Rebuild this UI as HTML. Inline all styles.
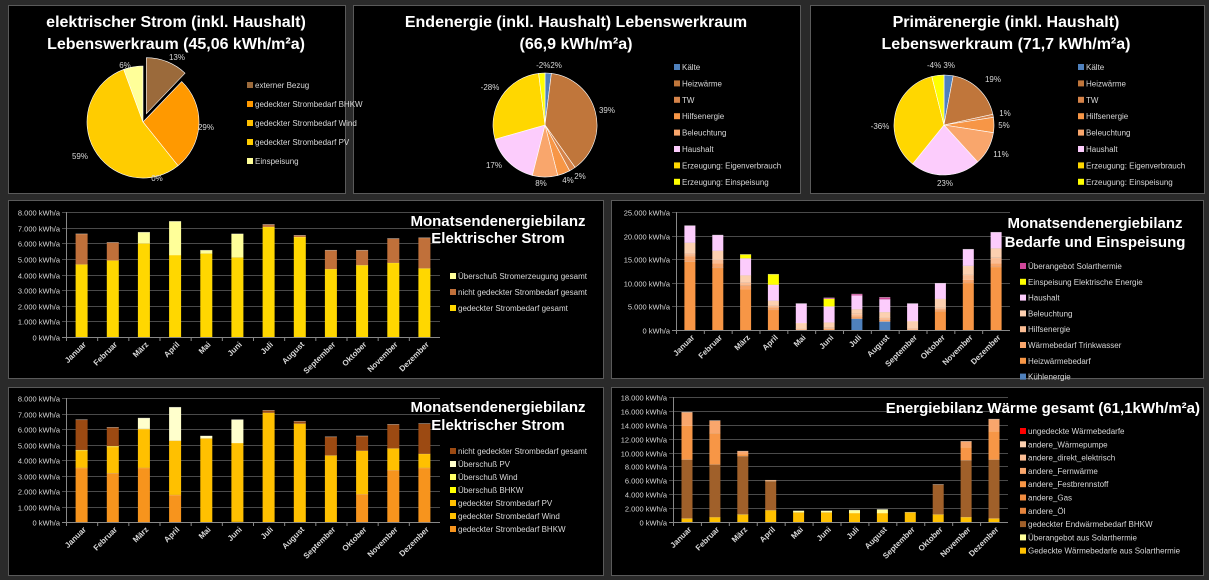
<!DOCTYPE html>
<html><head><meta charset="utf-8">
<style>
html,body{margin:0;padding:0;background:#2a2a2a;}
body{width:1209px;height:580px;overflow:hidden;position:relative;font-family:"Liberation Sans",sans-serif;}
svg{position:absolute;left:0;top:0;}
</style></head>
<body>
<svg id="s" width="1209" height="580" xmlns="http://www.w3.org/2000/svg"></svg>
<script>
var s=document.getElementById('s'),out='';
function rect(x,y,w,h,f,st){out+='<rect x="'+x+'" y="'+y+'" width="'+w+'" height="'+h+'" fill="'+f+'"'+(st?' stroke="'+st+'" stroke-width="1"':'')+'/>';}
function text(x,y,t,o){o=o||{};out+='<text x="'+x+'" y="'+y+'" font-size="'+(o.fs||8)+'" fill="'+(o.c||'#d8d8d8')+'" text-anchor="'+(o.a||'start')+'"'+(o.b?' font-weight="bold"':'')+(o.tr?' transform="'+o.tr+'"':'')+'>'+t+'</text>';}
function fmt(n){var s=String(n);return s.replace(/\B(?=(\d{3})+(?!\d))/g,'.');}
[[8,5,337,188],[353,5,447,188],[810,5,394,188],[8,200,595,178],[611,200,592,178],[8,387,595,188],[611,387,592,188]].forEach(function(p){rect(p[0]+.5,p[1]+.5,p[2],p[3],'#000','#5a5a5a');});
function title(cx,y,t,fs){text(cx,y,t,{fs:fs||15,b:1,c:'#fff',a:'middle'});}
title(176,27,'elektrischer Strom (inkl. Haushalt)',16);title(176,49,'Lebenswerkraum (45,06 kWh/m²a)',16);
title(576,27,'Endenergie (inkl. Haushalt) Lebenswerkraum',16);title(576,49,'(66,9 kWh/m²a)',16);
title(1006,27,'Primärenergie (inkl. Haushalt)',16);title(1006,49,'Lebenswerkraum (71,7 kWh/m²a)',16);
function pie(cx,cy,r,sl,ex){var tot=0;sl.forEach(function(d){tot+=d[0];});var a=-Math.PI/2;
sl.forEach(function(d,i){var da=d[0]/tot*2*Math.PI;if(da<=0){return;}var ox=0,oy=0;if(i===ex){var m=a+da/2;ox=Math.cos(m)*9;oy=Math.sin(m)*9;}
var x1=cx+ox+r*Math.cos(a),y1=cy+oy+r*Math.sin(a),x2=cx+ox+r*Math.cos(a+da),y2=cy+oy+r*Math.sin(a+da);
out+='<path d="M'+(cx+ox)+','+(cy+oy)+' L'+x1+','+y1+' A'+r+','+r+' 0 '+(da>Math.PI?1:0)+' 1 '+x2+','+y2+' Z" fill="'+d[1]+'" stroke="#fff" stroke-width="0.6"/>';a+=da;});}
pie(143,122,56,[[13,'#9b6a3b'],[29,'#ff9900'],[0,'#ffc000'],[59,'#ffcc00'],[6,'#ffff99']],0);
[['13%',177,60],['6%',125,68],['29%',206,130],['0%',157,181],['59%',80,159]].forEach(function(l){text(l[1],l[2],l[0],{fs:8,a:'middle'});});
var L1=[['externer Bezug','#9b6a3b'],['gedeckter Strombedarf BHKW','#ff9900'],['gedeckter Strombedarf Wind','#ffc000'],['gedeckter Strombedarf PV','#ffcc00'],['Einspeisung','#ffff99']];
function legend(x,y0,dy,items,fs){items.forEach(function(it,i){var y=y0+i*dy;rect(x,y-6,6,6,it[1]);text(x+8,y,it[0],{fs:fs||8});});}
legend(247,88,19,L1);
var pc=['#4f81bd','#c0763b','#d6844a','#f79646','#f9a66c','#fcccfc','#ffd700','#ffff00'];
var PL=['Kälte','Heizwärme','TW','Hilfsenergie','Beleuchtung','Haushalt','Erzeugung: Eigenverbrauch','Erzeugung: Einspeisung'];
pie(545,125,52,[[2,pc[0]],[39,pc[1]],[2,pc[2]],[4,pc[3]],[8,pc[4]],[17,pc[5]],[28,pc[6]],[2,pc[7]]]);
[['-2%2%',549,68],['39%',607,113],['2%',580,179],['4%',568,183],['8%',541,186],['17%',494,168],['-28%',490,90]].forEach(function(l){text(l[1],l[2],l[0],{fs:8,a:'middle'});});
legend(674,70,16.4,PL.map(function(t,i){return [t,pc[i]];}));
pie(944,125,50,[[3,pc[0]],[19,pc[1]],[1,pc[2]],[5,pc[3]],[11,pc[4]],[23,pc[5]],[36,pc[6]],[4,pc[7]]]);
[['-4% 3%',941,68],['19%',993,82],['1%',1005,116],['5%',1004,128],['11%',1001,157],['23%',945,186],['-36%',880,129]].forEach(function(l){text(l[1],l[2],l[0],{fs:8,a:'middle'});});
legend(1078,70,16.4,PL.map(function(t,i){return [t,pc[i]];}));
var M=['Januar','Februar','März','April','Mai','Juni','Juli','August','September','Oktober','November','Dezember'];
function bar(o){var x0=o.x0,x1=o.x1,yt=o.yt,yb=o.yb,max=o.max,step=o.step;var n=Math.round(max/step);
for(var i=0;i<=n;i++){var y=yb-(yb-yt)*i/n;y=Math.round(y)+.5;out+='<line x1="'+(x0-4)+'" y1="'+y+'" x2="'+x1+'" y2="'+y+'" stroke="'+(i?'#4a4a4a':'#888')+'" stroke-width="1"/>';
text(x0-6,y+3,fmt(i*step*1000)+' kWh/a',{fs:7.5,a:'end'});}
out+='<line x1="'+(x0+.5)+'" y1="'+yt+'" x2="'+(x0+.5)+'" y2="'+yb+'" stroke="#888"/>';
var cw=(x1-x0)/12;
o.data.forEach(function(d,m){var cx=x0+cw*(m+.5),acc=0;d.forEach(function(v,k){if(!v)return;var h=v/max*(yb-yt);var y=yb-(acc+v)/max*(yb-yt);rect((cx-o.bw/2).toFixed(1),y.toFixed(1),o.bw,h.toFixed(1),o.col[k]);
out+='<line x1="'+(cx-o.bw/2)+'" y1="'+y.toFixed(1)+'" x2="'+(cx+o.bw/2)+'" y2="'+y.toFixed(1)+'" stroke="rgba(255,255,255,0.5)" stroke-width="0.7"/>';acc+=v;});
out+='<line x1="'+(x0+cw*m+.5)+'" y1="'+yb+'" x2="'+(x0+cw*m+.5)+'" y2="'+(yb+4)+'" stroke="#888"/>';
text(cx+5,yb+8,M[m],{fs:8,b:1,a:'end',tr:'rotate(-45 '+(cx+5)+' '+(yb+8)+')'});});}
var c4=[[4.65,1.95,0],[4.9,1.15,0],[6.0,0,0.7],[5.25,0,2.15],[5.35,0,0.2],[5.1,0,1.5],[7.05,0.15,0],[6.4,0.1,0],[4.35,1.2,0],[4.6,0.95,0],[4.75,1.55,0],[4.4,1.95,0]];
bar({x0:66,x1:440,yt:212,yb:337,max:8,step:1,bw:12,data:c4,col:['#ffd700','#c0703a','#ffff99']});
title(498,226,'Monatsendenergiebilanz');title(498,243,'Elektrischer Strom');
legend(450,279,16,[['Überschuß Stromerzeugung gesamt','#ffff99'],['nicht gedeckter Strombedarf gesamt','#c0703a'],['gedeckter Strombedarf gesamt','#ffd700']]);
var c6=[[3.5,1.1,0.05,0,0,0,1.95],[3.15,1.7,0.05,0,0,0,1.2],[3.5,2.5,0,0,0,0.7,0],[1.75,3.5,0,0,0,2.15,0],[0,5.4,0,0,0,0.15,0],[0,5.1,0,0,0,1.5,0],[0,7.05,0,0,0,0,0.15],[0,6.35,0,0,0,0,0.15],[0,4.3,0,0,0,0,1.2],[1.8,2.8,0,0,0,0,0.95],[3.35,1.4,0,0,0,0,1.55],[3.5,0.9,0,0,0,0,1.95]];
bar({x0:66,x1:440,yt:398,yb:522,max:8,step:1,bw:12,data:c6,col:['#f7941d','#ffc000','#ffd700','#ffff00','#ffff66','#ffffcc','#9c4a12']});
title(498,412,'Monatsendenergiebilanz');title(498,430,'Elektrischer Strom');
legend(450,454,13,[['nicht gedeckter Strombedarf gesamt','#9c4a12'],['Überschuß PV','#ffffcc'],['Überschuß Wind','#ffff66'],['Überschuß BHKW','#ffff00'],['gedeckter Strombedarf PV','#ffc000'],['gedeckter Strombedarf Wind','#ffc000'],['gedeckter Strombedarf BHKW','#f7941d']]);
var c5=[[0,14.5,1.2,0.6,2.2,3.6,0,0],[0,13.2,1.0,0.7,1.9,3.3,0,0],[0,8.7,0.8,0.6,1.5,3.6,0.8,0],[0,4.3,0.5,0.4,1.0,3.4,2.2,0],[0,0,0,0.3,1.2,4.1,0,0],[0,0,0.3,0.3,1.0,3.4,1.6,0.2],[2.4,0,0.5,0.5,1.0,2.9,0,0.3],[1.8,0,0.4,0.4,1.2,2.7,0,0.4],[0,0,0,0.4,1.5,3.7,0,0],[0,4.0,0.4,0.3,1.9,3.3,0,0],[0,10.0,0.7,1.0,1.9,3.5,0,0],[0,13.4,0.8,1.1,2.0,3.4,0,0]];
bar({x0:676,x1:1010,yt:212,yb:330,max:25,step:5,bw:11,data:c5,col:['#4f81bd','#f79646','#f9a66c','#fbbd94','#fcd0b0','#fcccfc','#ffff00','#d0479a']});
title(1095,228,'Monatsendenergiebilanz');title(1095,247,'Bedarfe und Einspeisung');
legend(1020,269,15.8,[['Überangebot Solarthermie','#d0479a'],['Einspeisung Elektrische Energie','#ffff00'],['Haushalt','#fcccfc'],['Beleuchtung','#fcd0b0'],['Hilfsenergie','#fbbd94'],['Wärmebedarf Trinkwasser','#f9a66c'],['Heizwärmebedarf','#f79646'],['Kühlenergie','#4f81bd']]);
var c7=[[0.5,0,8.5,0,0,4.9,1.9,0,0,0],[0.7,0,7.6,0,0,4.5,1.8,0,0,0],[1.1,0,8.4,0,0,0.3,0.4,0,0,0],[1.7,0,4.2,0,0,0.1,0,0,0,0],[1.4,0.2,0,0,0,0,0,0,0,0],[1.4,0.2,0,0,0,0,0,0,0,0],[1.3,0.4,0,0,0,0,0,0,0,0],[1.3,0.5,0,0,0,0,0,0,0,0],[1.4,0,0,0,0,0,0,0,0,0],[1.1,0,4.3,0,0,0,0,0,0,0],[0.7,0,8.2,0,0,1.9,0.8,0,0,0],[0.5,0,8.5,0,0,4.1,1.7,0,0,0]];
bar({x0:673,x1:1008,yt:397,yb:522,max:18,step:2,bw:11,data:c7,col:['#ffc000','#ffff99','#a0602a','#e5843d','#f08c40','#f79646','#f9a66c','#fbbd94','#fcd0b0','#ff0000']});
text(1200,413,'Energiebilanz Wärme gesamt (61,1kWh/m²a)',{fs:15,b:1,c:'#fff',a:'end'});
legend(1020,434,13.3,[['ungedeckte Wärmebedarfe','#ff0000'],['andere_Wärmepumpe','#fcd0b0'],['andere_direkt_elektrisch','#fbbd94'],['andere_Fernwärme','#f9a66c'],['andere_Festbrennstoff','#f79646'],['andere_Gas','#f08c40'],['andere_Öl','#e5843d'],['gedeckter Endwärmebedarf BHKW','#a0602a'],['Überangebot aus Solarthermie','#ffff99'],['Gedeckte Wärmebedarfe aus Solarthermie','#ffc000']]);
s.innerHTML=out;
</script>
</body></html>
